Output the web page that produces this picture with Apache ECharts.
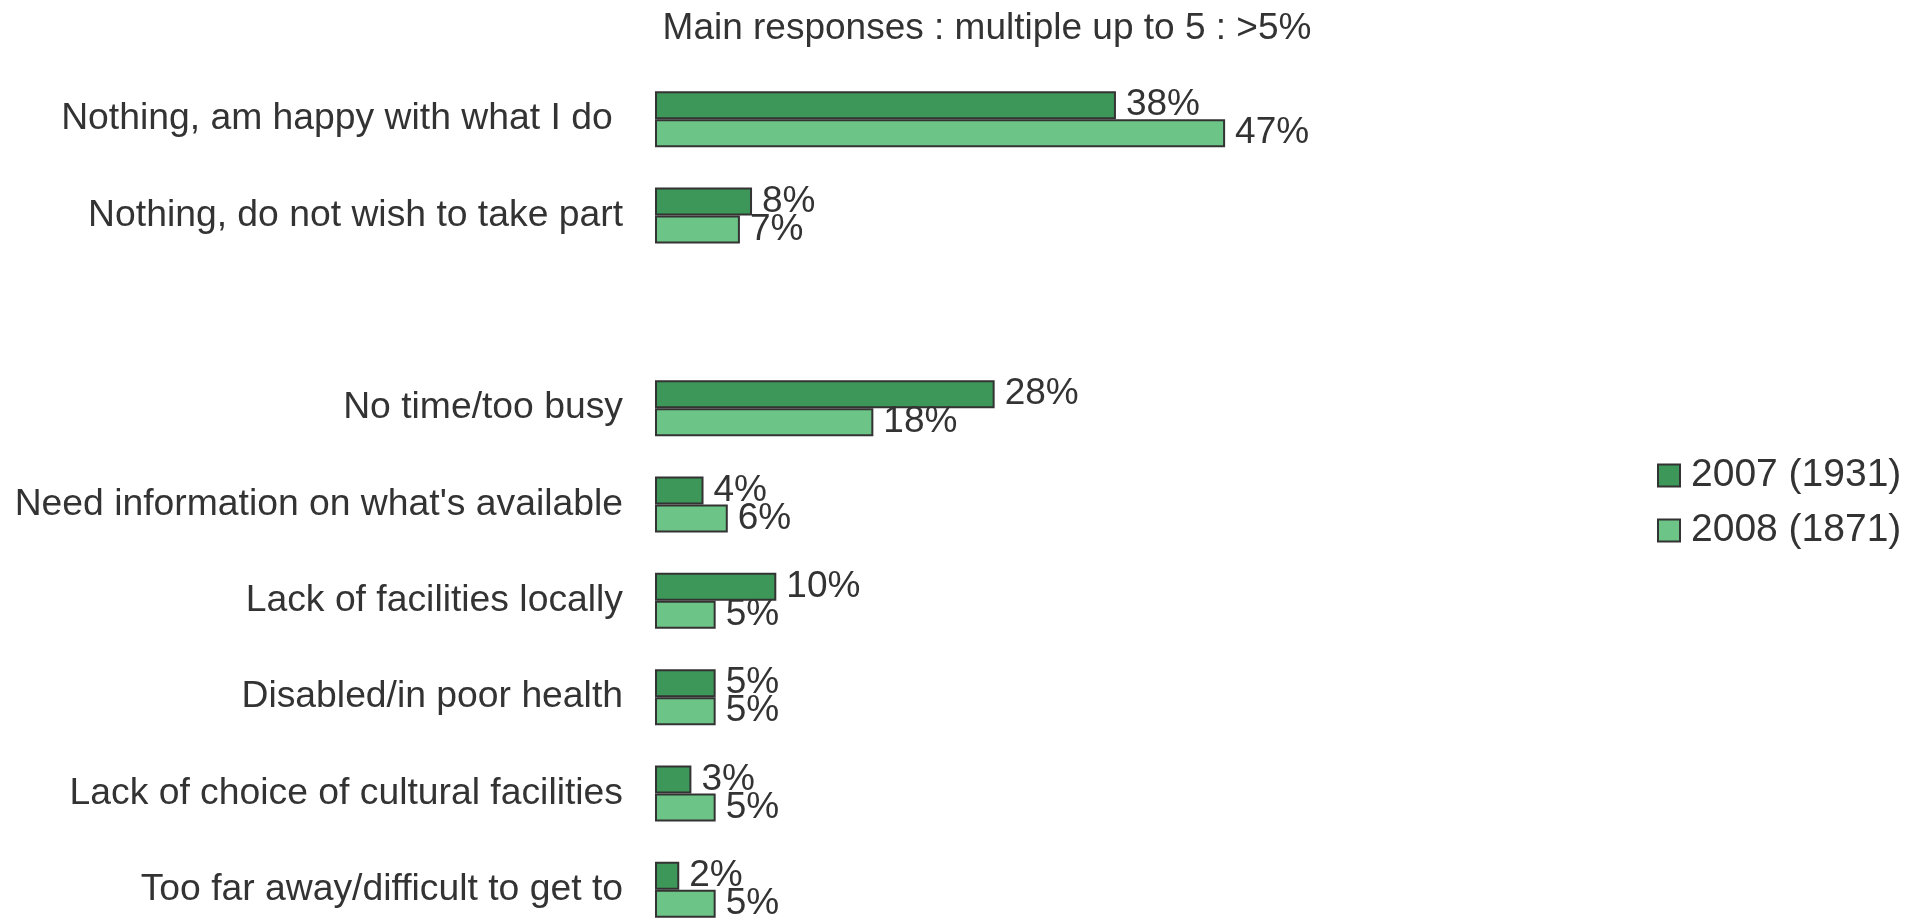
<!DOCTYPE html>
<html>
<head>
<meta charset="utf-8">
<title>Main responses</title>
<script src="https://cdn.jsdelivr.net/npm/echarts@6/dist/echarts.min.js"></script>
<style>
  html, body { margin: 0; padding: 0; background: #fff; overflow: hidden; }
  /* taller than the window: the last row is cut off at the bottom, like the original */
  #chart { width: 1915px; height: 945px; }
</style>
</head>
<body>
<div id="chart"></div>
<script>
// categories (empty one is the gap between the two groups)
const categories = [
  "Nothing, am happy with what I do ",
  "Nothing, do not wish to take part",
  "",
  "No time/too busy",
  "Need information on what's available",
  "Lack of facilities locally",
  "Disabled/in poor health",
  "Lack of choice of cultural facilities",
  "Too far away/difficult to get to",
];
const seriesNames = ["2007 (1931)", "2008 (1871)"];
const values2007 = [38, 8, null, 28, 4, 10, 5, 3, 2];
const values2008 = [47, 7, null, 18, 6, 5, 5, 5, 5];

const FONT = "'Liberation Sans', Arial, sans-serif";
const TEXT = "#333333";

const chart = echarts.init(document.getElementById("chart"));

const barLabel = {
  show: true,
  position: "right",
  distance: 10,
  color: TEXT,
  fontSize: 37,
  fontFamily: FONT,
  formatter: (p) => p.value + "%",
};

chart.setOption({
  animation: false,
  title: {
    text: "Main responses : multiple up to 5 : >5%",
    left: 982,
    top: 5,
    textAlign: "center",
    textStyle: {
      color: TEXT,
      fontSize: 37,
      fontWeight: "normal",
      fontFamily: FONT,
    },
  },
  legend: {
    orient: "vertical",
    left: 1652,
    top: 451,
    itemWidth: 22,
    itemHeight: 22,
    itemGap: 16,
    icon: "rect",
    textStyle: { color: TEXT, fontSize: 39, fontFamily: FONT, padding: [0, 0, 0, 6] },
    data: seriesNames,
  },
  grid: {
    left: 655,
    top: 71,
    width: 606.5,
    height: 867,
    containLabel: false,
  },
  xAxis: {
    type: "value",
    min: 0,
    max: 50,
    show: false,
  },
  yAxis: {
    type: "category",
    data: categories,
    inverse: true,
    axisLine: { show: false },
    axisTick: { show: false },
    axisLabel: {
      margin: 32,
      color: TEXT,
      fontSize: 37.3,
      fontFamily: FONT,
    },
  },
  series: [
    {
      name: seriesNames[0],
      type: "bar",
      data: values2007,
      barWidth: 28,
      barGap: "0%",
      itemStyle: { color: "#3c9758", borderColor: "#333333", borderWidth: 2 },
      label: barLabel,
    },
    {
      name: seriesNames[1],
      type: "bar",
      data: values2008,
      barWidth: 28,
      barGap: "0%",
      itemStyle: { color: "#6cc586", borderColor: "#333333", borderWidth: 2 },
      label: barLabel,
    },
  ],
});
</script>
</body>
</html>
